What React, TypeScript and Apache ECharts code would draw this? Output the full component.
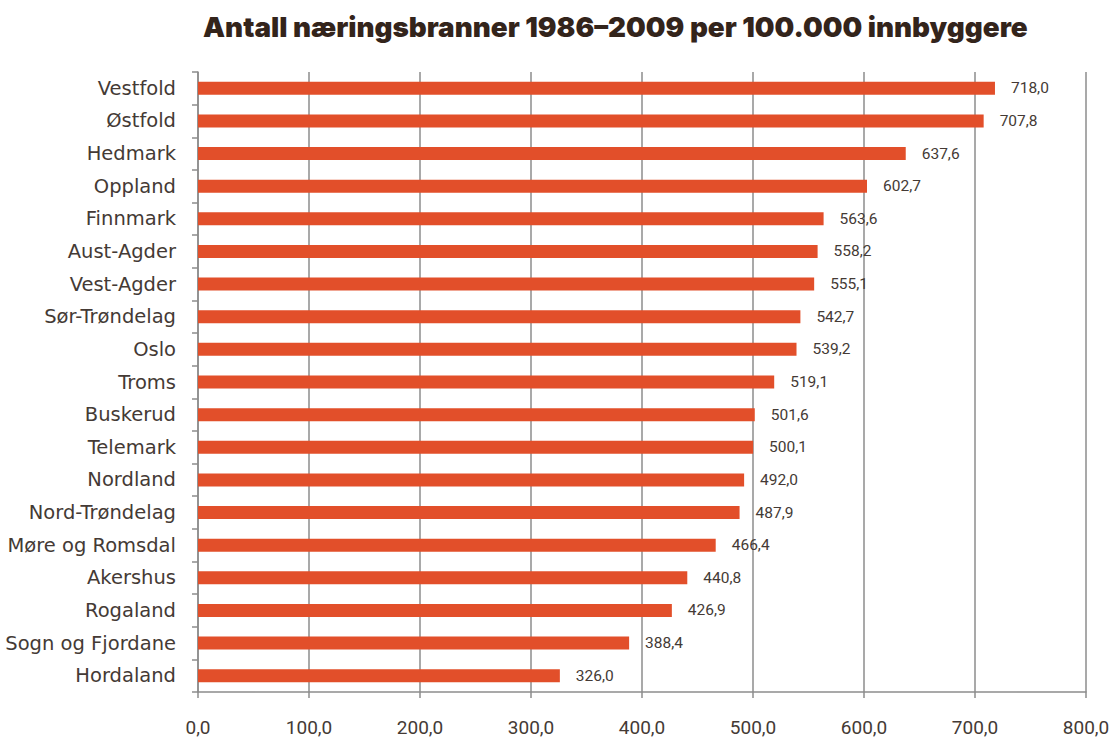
import React, { useEffect, useRef } from "react";
import * as echarts from "echarts";

const categories = [
  "Vestfold", "Østfold", "Hedmark", "Oppland", "Finnmark", "Aust-Agder", "Vest-Agder",
  "Sør-Trøndelag", "Oslo", "Troms", "Buskerud", "Telemark", "Nordland", "Nord-Trøndelag",
  "Møre og Romsdal", "Akershus", "Rogaland", "Sogn og Fjordane", "Hordaland",
];
const values = [
  718.0, 707.8, 637.6, 602.7, 563.6, 558.2, 555.1, 542.7, 539.2, 519.1, 501.6, 500.1,
  492.0, 487.9, 466.4, 440.8, 426.9, 388.4, 326.0,
];
const title = "Antall næringsbranner 1986–2009 per 100.000 innbyggere";

const fmt = (v: number) => v.toFixed(1).replace(".", ",");

export default function App() {
  const ref = useRef<HTMLDivElement>(null);
  useEffect(() => {
    const chart = echarts.init(ref.current!, null, { renderer: "svg" });
    const textColor = "#443a35";
    const gray = "#8c8c8c";
    chart.setOption({
      animation: false,
      backgroundColor: "#ffffff",
      title: {
        text: title,
        left: 198,
        top: 8,
        textStyle: {
          fontFamily: "Inter",
          fontWeight: 900,
          fontSize: 27.8,
          color: "#33241b",
        },
      },
      grid: {
        left: 198,
        right: 29,
        top: 72,
        bottom: 46,
        containLabel: false,
        outerBoundsMode: "none",
      },
      xAxis: {
        type: "value",
        min: 0,
        max: 800,
        interval: 100,
        axisLine: { show: true, lineStyle: { color: gray, width: 1.5 } },
        axisTick: { show: true, length: 6, lineStyle: { color: gray, width: 1.5 } },
        splitLine: { show: true, lineStyle: { color: gray, width: 1.5 } },
        axisLabel: {
          formatter: (v: number) => fmt(v),
          fontFamily: "Roboto",
          fontSize: 19,
          lineHeight: 18,
          color: textColor,
          margin: 26,
        },
      },
      yAxis: {
        type: "category",
        data: categories,
        inverse: true,
        axisLine: { show: true, lineStyle: { color: gray, width: 1.5 } },
        axisTick: { show: true, length: 6, lineStyle: { color: gray, width: 1.5 } },
        axisLabel: {
          fontFamily: "DejaVu Sans",
          fontSize: 19.5,
          color: textColor,
          margin: 22,
        },
      },
      series: [
        {
          type: "bar",
          data: values,
          barWidth: 13,
          itemStyle: { color: "#e24f2a" },
          label: {
            show: true,
            position: "right",
            distance: 16,
            formatter: (p: any) => fmt(p.value),
            fontFamily: "Roboto",
            fontSize: 15.5,
            color: textColor,
          },
        },
      ],
    });
    return () => chart.dispose();
  }, []);
  return (
    <div
      ref={ref}
      style={{ position: "fixed", left: 0, top: 0, width: 1115, height: 738 }}
    />
  );
}
